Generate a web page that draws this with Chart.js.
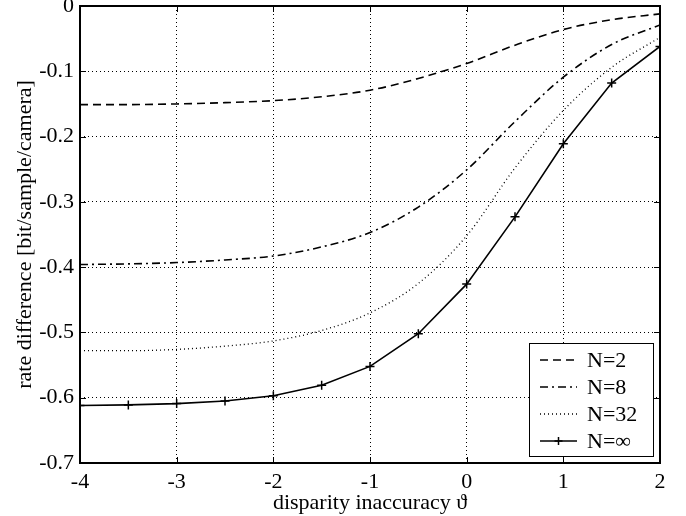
<!DOCTYPE html>
<html>
<head>
<meta charset="utf-8">
<script src="https://cdn.jsdelivr.net/npm/chart.js@4/dist/chart.umd.min.js"></script>
<style>
  html, body { margin: 0; padding: 0; background: #fff; }
  #wrap { width: 686px; height: 516px; }
</style>
</head>
<body>
<div id="wrap"><canvas id="chart" width="686" height="516"></canvas></div>
<script>
// data
const xValues = [-4, -3.5, -3, -2.5, -2, -1.5, -1, -0.5, 0, 0.5, 1, 1.5, 2];
const n2   = [-0.151, -0.151, -0.150, -0.148, -0.145, -0.139, -0.129, -0.111, -0.088, -0.060, -0.036, -0.021, -0.012];
const n8   = [-0.396, -0.395, -0.393, -0.389, -0.383, -0.369, -0.347, -0.308, -0.251, -0.177, -0.109, -0.059, -0.029];
const n32  = [-0.528, -0.528, -0.526, -0.521, -0.513, -0.497, -0.470, -0.425, -0.352, -0.248, -0.160, -0.094, -0.048];
const nInf = [-0.612, -0.611, -0.609, -0.605, -0.597, -0.581, -0.552, -0.502, -0.426, -0.323, -0.211, -0.118, -0.062];
const seriesLabels = ['N=2', 'N=8', 'N=32', 'N=\u221E'];
const xTicks = [-4, -3, -2, -1, 0, 1, 2];
const yTicks = [0, -0.1, -0.2, -0.3, -0.4, -0.5, -0.6, -0.7];

const FONT = '"Liberation Serif", "Times New Roman", serif';
const dashes = [[8, 5], [8, 4, 2, 4], [1, 3], []];

function pts(arr) {
    return xValues.map((x, i) => ({ x: x, y: arr[i] }));
}

// frame, inward ticks, legend
const framePlugin = {
    id: 'frame',
    afterDraw(chart) {
        const { ctx, chartArea: a, scales } = chart;
        ctx.save();
        ctx.strokeStyle = '#000';
        ctx.lineWidth = 1;
        ctx.setLineDash([]);
        ctx.beginPath();
        xTicks.forEach(v => {
            const px = Math.round(scales.x.getPixelForValue(v)) + 0.5;
            ctx.moveTo(px, a.bottom); ctx.lineTo(px, a.bottom - 6);
            ctx.moveTo(px, a.top); ctx.lineTo(px, a.top + 6);
        });
        yTicks.forEach(v => {
            const py = Math.round(scales.y.getPixelForValue(v)) + 0.5;
            ctx.moveTo(a.left, py); ctx.lineTo(a.left + 6, py);
            ctx.moveTo(a.right, py); ctx.lineTo(a.right - 6, py);
        });
        ctx.stroke();
        ctx.lineWidth = 2;
        ctx.strokeRect(a.left, a.top, a.right - a.left, a.bottom - a.top);

        // legend
        const bx = a.right - 131, by = a.bottom - 120, bw = 124, bh = 113;
        ctx.fillStyle = '#fff';
        ctx.fillRect(bx, by, bw, bh);
        ctx.lineWidth = 1;
        ctx.strokeRect(bx + 0.5, by + 0.5, bw, bh);
        ctx.font = '22px ' + FONT;
        ctx.textBaseline = 'middle';
        seriesLabels.forEach((lab, i) => {
            const ly = by + 17 + i * 27;
            ctx.setLineDash(dashes[i]);
            ctx.lineWidth = 1.5;
            ctx.beginPath();
            ctx.moveTo(bx + 11, ly); ctx.lineTo(bx + 48, ly);
            ctx.stroke();
            ctx.setLineDash([]);
            if (i === 3) {
                ctx.beginPath();
                ctx.moveTo(bx + 29.5, ly - 4); ctx.lineTo(bx + 29.5, ly + 4);
                ctx.moveTo(bx + 25.5, ly); ctx.lineTo(bx + 33.5, ly);
                ctx.stroke();
            }
            ctx.fillStyle = '#000';
            ctx.fillText(lab, bx + 58, ly + 1);
        });
        ctx.restore();
    }
};

const ctx = document.getElementById('chart').getContext('2d');
new Chart(ctx, {
    type: 'line',
    data: {
        datasets: [
            { label: seriesLabels[0], data: pts(n2), borderColor: '#000', borderWidth: 1.6, borderDash: dashes[0], pointRadius: 0, cubicInterpolationMode: 'monotone' },
            { label: seriesLabels[1], data: pts(n8), borderColor: '#000', borderWidth: 1.6, borderDash: dashes[1], pointRadius: 0, cubicInterpolationMode: 'monotone' },
            { label: seriesLabels[2], data: pts(n32), borderColor: '#000', borderWidth: 1.3, borderDash: dashes[2], pointRadius: 0, cubicInterpolationMode: 'monotone' },
            { label: seriesLabels[3], data: pts(nInf), borderColor: '#000', borderWidth: 1.6, pointStyle: 'cross', pointRadius: 4.5, pointBorderWidth: 1.5, pointBorderColor: '#000', tension: 0 }
        ]
    },
    options: {
        responsive: false,
        animation: false,
        layout: { padding: { top: 6, right: 26, left: 0, bottom: 0 } },
        plugins: { legend: { display: false }, tooltip: { enabled: false } },
        scales: {
            x: {
                type: 'linear', min: -4, max: 2,
                afterFit(s) { s.height = 53; s.paddingLeft = 0; s.paddingRight = 0; },
                afterBuildTicks(s) { s.ticks = xTicks.map(v => ({ value: v })); },
                grid: { color: '#000', lineWidth: 1, drawTicks: false },
                border: { display: false, dash: [1, 3] },
                ticks: { color: '#000', font: { family: FONT, size: 22 }, padding: 6, callback: v => String(v) },
                title: { display: true, text: 'disparity inaccuracy \u03D1', color: '#000', font: { family: FONT, size: 22 }, padding: { top: 0, bottom: 0 } }
            },
            y: {
                type: 'linear', min: -0.7, max: 0,
                afterFit(s) { s.width = 80; s.paddingTop = 0; s.paddingBottom = 0; },
                afterBuildTicks(s) { s.ticks = yTicks.map(v => ({ value: v })); },
                grid: { color: '#000', lineWidth: 1, drawTicks: false },
                border: { display: false, dash: [1, 3] },
                ticks: { color: '#000', font: { family: FONT, size: 22 }, padding: 6, callback: v => (v === 0 ? '0' : v.toFixed(1)) },
                title: { display: true, text: 'rate difference [bit/sample/camera]', color: '#000', font: { family: FONT, size: 22 }, padding: { top: 12, bottom: 0 } }
            }
        }
    },
    plugins: [framePlugin]
});
</script>
</body>
</html>
